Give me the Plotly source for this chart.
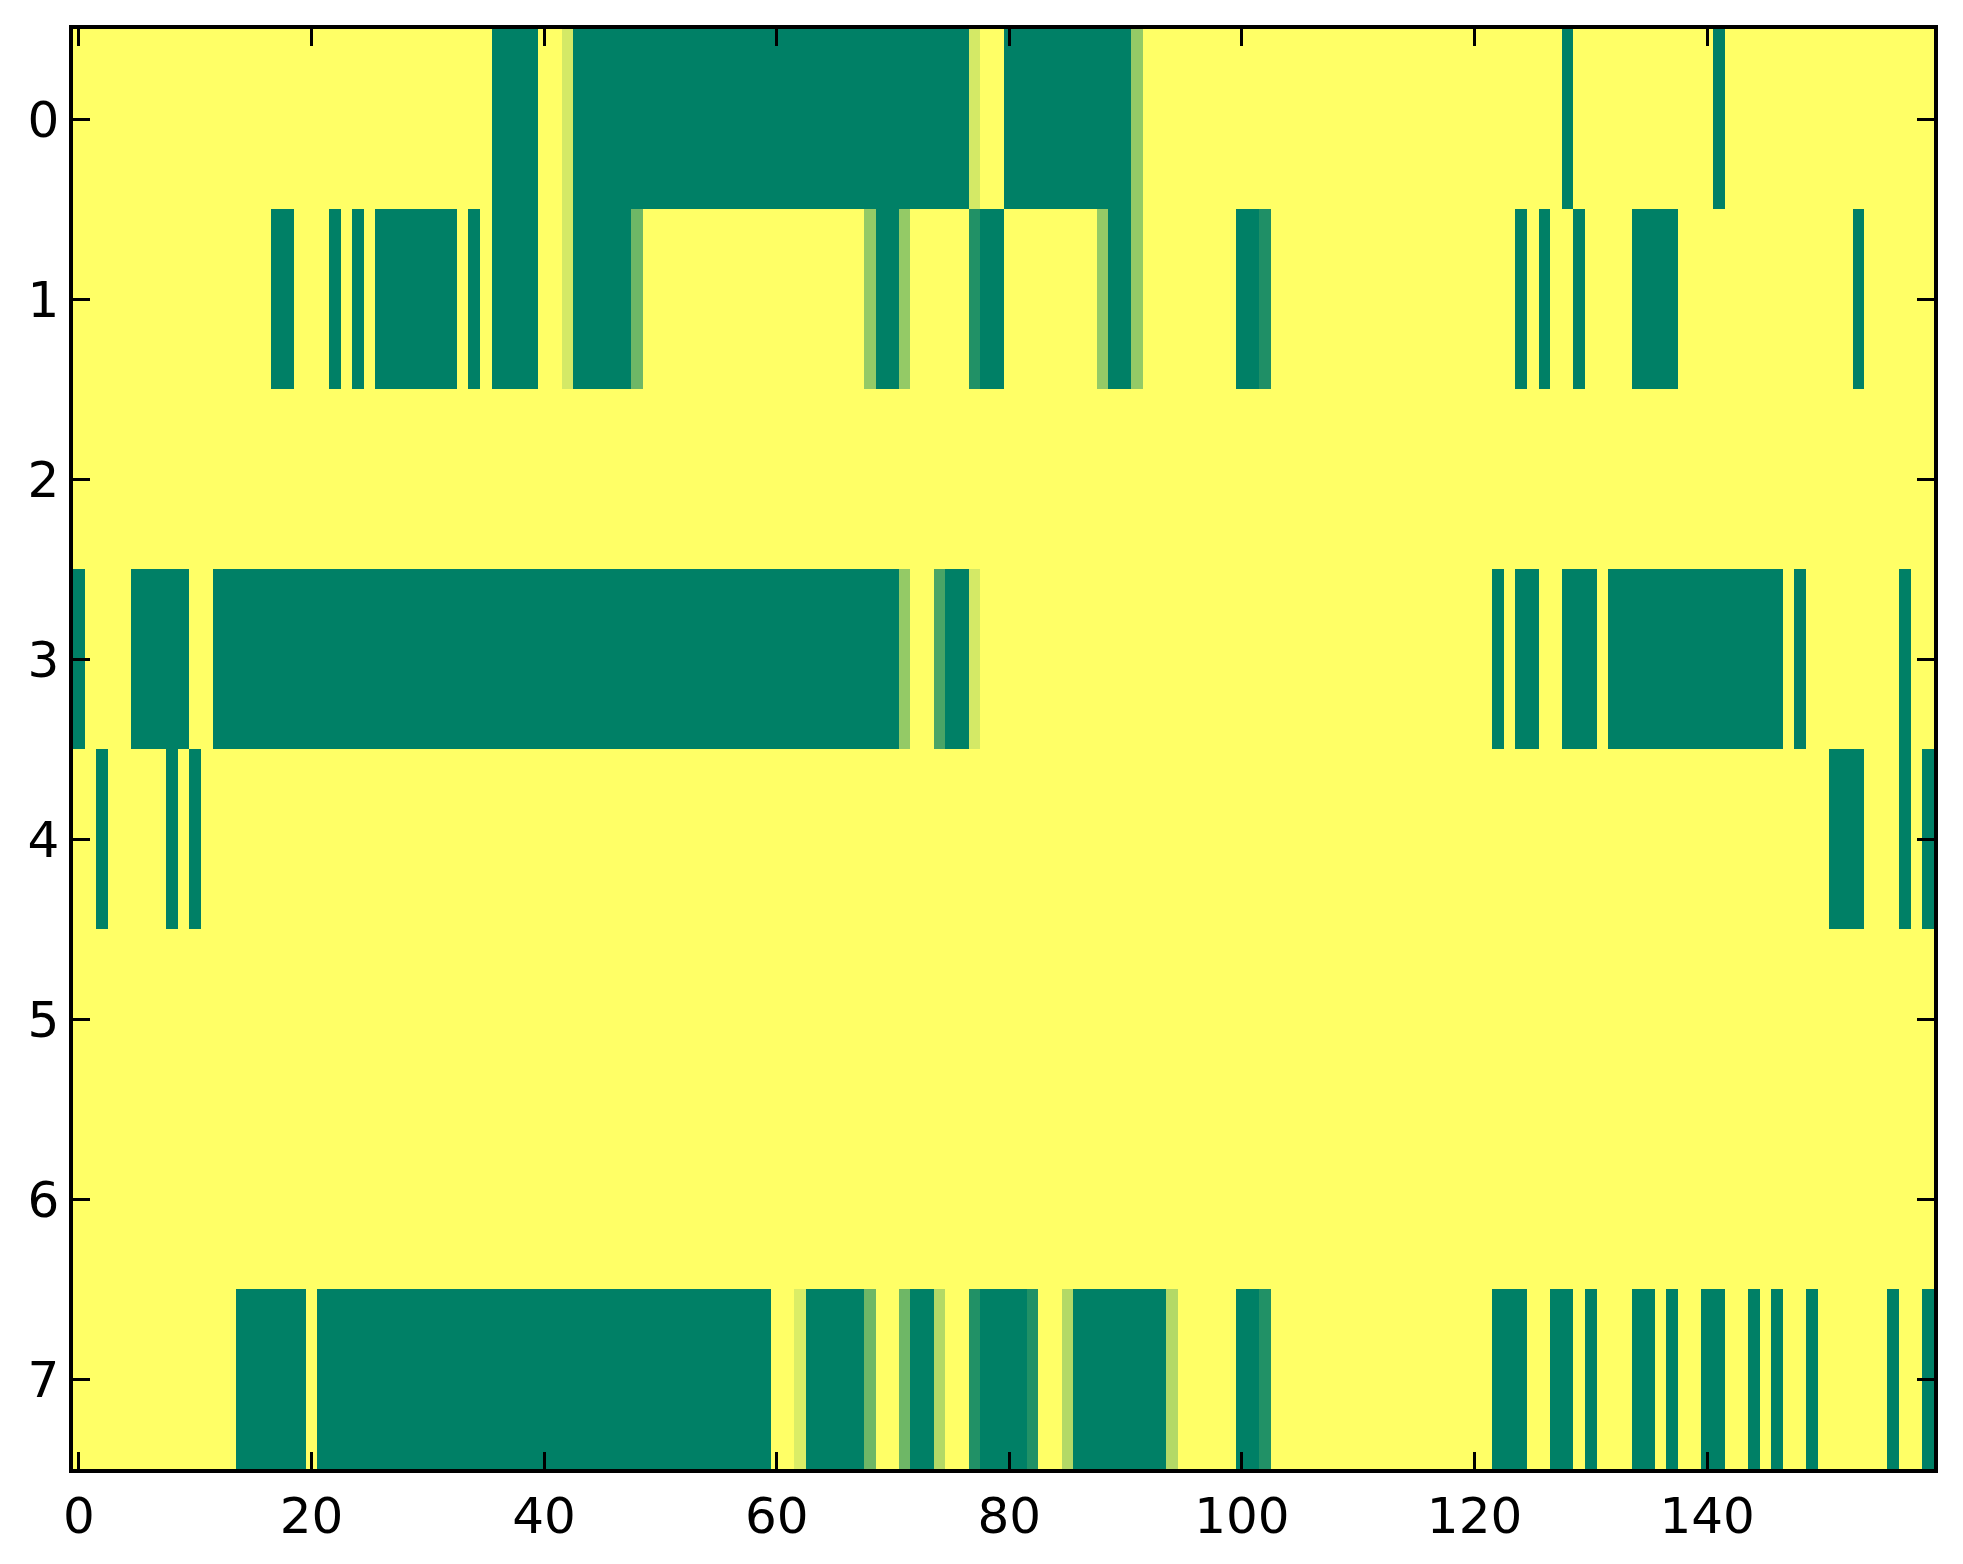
import plotly.graph_objects as go

# Column indices (160 columns) and row indices (8 rows)
columns = list(range(160))
rows = list(range(8))

x_tick_vals = [0, 20, 40, 60, 80, 100, 120, 140]
x_tick_text = ["0", "20", "40", "60", "80", "100", "120", "140"]
y_tick_vals = [0, 1, 2, 3, 4, 5, 6, 7]
y_tick_text = ["0", "1", "2", "3", "4", "5", "6", "7"]

row0 = [1, 1, 1, 1, 1, 1, 1, 1, 1, 1, 1, 1, 1, 1, 1, 1, 1, 1, 1, 1,
        1, 1, 1, 1, 1, 1, 1, 1, 1, 1, 1, 1, 1, 1, 1, 1, 0, 0, 0, 0,
        1, 1, 0.83, 0, 0, 0, 0, 0, 0, 0, 0, 0, 0, 0, 0, 0, 0, 0, 0, 0,
        0, 0, 0, 0, 0, 0, 0, 0, 0, 0, 0, 0, 0, 0, 0, 0, 0, 0.83, 1, 1,
        0, 0, 0, 0, 0, 0, 0, 0, 0, 0, 0, 0.58, 1, 1, 1, 1, 1, 1, 1, 1,
        1, 1, 1, 1, 1, 1, 1, 1, 1, 1, 1, 1, 1, 1, 1, 1, 1, 1, 1, 1,
        1, 1, 1, 1, 1, 1, 1, 1, 0, 1, 1, 1, 1, 1, 1, 1, 1, 1, 1, 1,
        1, 0, 1, 1, 1, 1, 1, 1, 1, 1, 1, 1, 1, 1, 1, 1, 1, 1, 1, 1]

row1 = [1, 1, 1, 1, 1, 1, 1, 1, 1, 1, 1, 1, 1, 1, 1, 1, 1, 0, 0, 1,
        1, 1, 0, 1, 0, 1, 0, 0, 0, 0, 0, 0, 0, 1, 0, 1, 0, 0, 0, 0,
        1, 1, 0.83, 0, 0, 0, 0, 0, 0.43, 1, 1, 1, 1, 1, 1, 1, 1, 1, 1, 1,
        1, 1, 1, 1, 1, 1, 1, 1, 0.58, 0, 0, 0.58, 1, 1, 1, 1, 1, 0.13, 0, 0,
        1, 1, 1, 1, 1, 1, 1, 1, 0.58, 0, 0, 0.58, 1, 1, 1, 1, 1, 1, 1, 1,
        0, 0, 0.12, 1, 1, 1, 1, 1, 1, 1, 1, 1, 1, 1, 1, 1, 1, 1, 1, 1,
        1, 1, 1, 1, 0, 1, 0, 1, 1, 0, 1, 1, 1, 1, 0, 0, 0, 0, 1, 1,
        1, 1, 1, 1, 1, 1, 1, 1, 1, 1, 1, 1, 1, 0, 1, 1, 1, 1, 1, 1]

row2 = [1, 1, 1, 1, 1, 1, 1, 1, 1, 1, 1, 1, 1, 1, 1, 1, 1, 1, 1, 1,
        1, 1, 1, 1, 1, 1, 1, 1, 1, 1, 1, 1, 1, 1, 1, 1, 1, 1, 1, 1,
        1, 1, 1, 1, 1, 1, 1, 1, 1, 1, 1, 1, 1, 1, 1, 1, 1, 1, 1, 1,
        1, 1, 1, 1, 1, 1, 1, 1, 1, 1, 1, 1, 1, 1, 1, 1, 1, 1, 1, 1,
        1, 1, 1, 1, 1, 1, 1, 1, 1, 1, 1, 1, 1, 1, 1, 1, 1, 1, 1, 1,
        1, 1, 1, 1, 1, 1, 1, 1, 1, 1, 1, 1, 1, 1, 1, 1, 1, 1, 1, 1,
        1, 1, 1, 1, 1, 1, 1, 1, 1, 1, 1, 1, 1, 1, 1, 1, 1, 1, 1, 1,
        1, 1, 1, 1, 1, 1, 1, 1, 1, 1, 1, 1, 1, 1, 1, 1, 1, 1, 1, 1]

row3 = [0, 1, 1, 1, 1, 0, 0, 0, 0, 0, 1, 1, 0, 0, 0, 0, 0, 0, 0, 0,
        0, 0, 0, 0, 0, 0, 0, 0, 0, 0, 0, 0, 0, 0, 0, 0, 0, 0, 0, 0,
        0, 0, 0, 0, 0, 0, 0, 0, 0, 0, 0, 0, 0, 0, 0, 0, 0, 0, 0, 0,
        0, 0, 0, 0, 0, 0, 0, 0, 0, 0, 0, 0.58, 1, 1, 0.29, 0, 0, 0.83, 1, 1,
        1, 1, 1, 1, 1, 1, 1, 1, 1, 1, 1, 1, 1, 1, 1, 1, 1, 1, 1, 1,
        1, 1, 1, 1, 1, 1, 1, 1, 1, 1, 1, 1, 1, 1, 1, 1, 1, 1, 1, 1,
        1, 1, 0, 1, 0, 0, 1, 1, 0, 0, 0, 1, 0, 0, 0, 0, 0, 0, 0, 0,
        0, 0, 0, 0, 0, 0, 0, 1, 0, 1, 1, 1, 1, 1, 1, 1, 1, 0, 1, 1]

row4 = [1, 1, 0, 1, 1, 1, 1, 1, 0, 1, 0, 1, 1, 1, 1, 1, 1, 1, 1, 1,
        1, 1, 1, 1, 1, 1, 1, 1, 1, 1, 1, 1, 1, 1, 1, 1, 1, 1, 1, 1,
        1, 1, 1, 1, 1, 1, 1, 1, 1, 1, 1, 1, 1, 1, 1, 1, 1, 1, 1, 1,
        1, 1, 1, 1, 1, 1, 1, 1, 1, 1, 1, 1, 1, 1, 1, 1, 1, 1, 1, 1,
        1, 1, 1, 1, 1, 1, 1, 1, 1, 1, 1, 1, 1, 1, 1, 1, 1, 1, 1, 1,
        1, 1, 1, 1, 1, 1, 1, 1, 1, 1, 1, 1, 1, 1, 1, 1, 1, 1, 1, 1,
        1, 1, 1, 1, 1, 1, 1, 1, 1, 1, 1, 1, 1, 1, 1, 1, 1, 1, 1, 1,
        1, 1, 1, 1, 1, 1, 1, 1, 1, 1, 1, 0, 0, 0, 1, 1, 1, 0, 1, 0]

row5 = [1, 1, 1, 1, 1, 1, 1, 1, 1, 1, 1, 1, 1, 1, 1, 1, 1, 1, 1, 1,
        1, 1, 1, 1, 1, 1, 1, 1, 1, 1, 1, 1, 1, 1, 1, 1, 1, 1, 1, 1,
        1, 1, 1, 1, 1, 1, 1, 1, 1, 1, 1, 1, 1, 1, 1, 1, 1, 1, 1, 1,
        1, 1, 1, 1, 1, 1, 1, 1, 1, 1, 1, 1, 1, 1, 1, 1, 1, 1, 1, 1,
        1, 1, 1, 1, 1, 1, 1, 1, 1, 1, 1, 1, 1, 1, 1, 1, 1, 1, 1, 1,
        1, 1, 1, 1, 1, 1, 1, 1, 1, 1, 1, 1, 1, 1, 1, 1, 1, 1, 1, 1,
        1, 1, 1, 1, 1, 1, 1, 1, 1, 1, 1, 1, 1, 1, 1, 1, 1, 1, 1, 1,
        1, 1, 1, 1, 1, 1, 1, 1, 1, 1, 1, 1, 1, 1, 1, 1, 1, 1, 1, 1]

row6 = [1, 1, 1, 1, 1, 1, 1, 1, 1, 1, 1, 1, 1, 1, 1, 1, 1, 1, 1, 1,
        1, 1, 1, 1, 1, 1, 1, 1, 1, 1, 1, 1, 1, 1, 1, 1, 1, 1, 1, 1,
        1, 1, 1, 1, 1, 1, 1, 1, 1, 1, 1, 1, 1, 1, 1, 1, 1, 1, 1, 1,
        1, 1, 1, 1, 1, 1, 1, 1, 1, 1, 1, 1, 1, 1, 1, 1, 1, 1, 1, 1,
        1, 1, 1, 1, 1, 1, 1, 1, 1, 1, 1, 1, 1, 1, 1, 1, 1, 1, 1, 1,
        1, 1, 1, 1, 1, 1, 1, 1, 1, 1, 1, 1, 1, 1, 1, 1, 1, 1, 1, 1,
        1, 1, 1, 1, 1, 1, 1, 1, 1, 1, 1, 1, 1, 1, 1, 1, 1, 1, 1, 1,
        1, 1, 1, 1, 1, 1, 1, 1, 1, 1, 1, 1, 1, 1, 1, 1, 1, 1, 1, 1]

row7 = [1, 1, 1, 1, 1, 1, 1, 1, 1, 1, 1, 1, 1, 1, 0, 0, 0, 0, 0, 0,
        1, 0, 0, 0, 0, 0, 0, 0, 0, 0, 0, 0, 0, 0, 0, 0, 0, 0, 0, 0,
        0, 0, 0, 0, 0, 0, 0, 0, 0, 0, 0, 0, 0, 0, 0, 0, 0, 0, 0, 0,
        1, 1, 0.86, 0, 0, 0, 0, 0, 0.43, 1, 1, 0.43, 0, 0, 0.7, 1, 1, 0.13, 0, 0,
        0, 0, 0.13, 1, 1, 0.7, 0, 0, 0, 0, 0, 0, 0, 0, 0.7, 1, 1, 1, 1, 1,
        0, 0, 0.13, 1, 1, 1, 1, 1, 1, 1, 1, 1, 1, 1, 1, 1, 1, 1, 1, 1,
        1, 1, 0, 0, 0, 1, 1, 0, 0, 1, 0, 1, 1, 1, 0, 0, 1, 0, 1, 1,
        0, 0, 1, 1, 0, 1, 0, 1, 1, 0, 1, 1, 1, 1, 1, 1, 0, 1, 1, 0]

z = [row0, row1, row2, row3, row4, row5, row6, row7]

# matplotlib "summer" colormap
summer = [[0.0, "rgb(0,128,102)"], [1.0, "rgb(255,255,102)"]]

fig = go.Figure(
    go.Heatmap(
        z=z, x=columns, y=rows,
        colorscale=summer, zmin=0, zmax=1,
        showscale=False, zsmooth=False, hoverinfo="skip",
    )
)

axis_common = dict(
    showgrid=False, zeroline=False,
    showline=True, linewidth=3.5, linecolor="black",
    mirror="ticks", ticks="inside", ticklen=17, tickwidth=2.5, tickcolor="black",
    tickfont=dict(family="DejaVu Sans", size=50, color="black"),
)

# page body has an 8px default margin, so the figure is sized to fit the window
fig.update_layout(
    width=1955, height=1556,
    margin=dict(l=65, r=29, t=21, b=95),
    paper_bgcolor="white", plot_bgcolor="white",
    xaxis=dict(range=[-0.5, 159.5], tickmode="array",
               tickvals=x_tick_vals, ticktext=x_tick_text, **axis_common),
    yaxis=dict(range=[7.5, -0.5], tickmode="array",
               tickvals=y_tick_vals, ticktext=y_tick_text, **axis_common),
)

fig.write_html("out.html")
